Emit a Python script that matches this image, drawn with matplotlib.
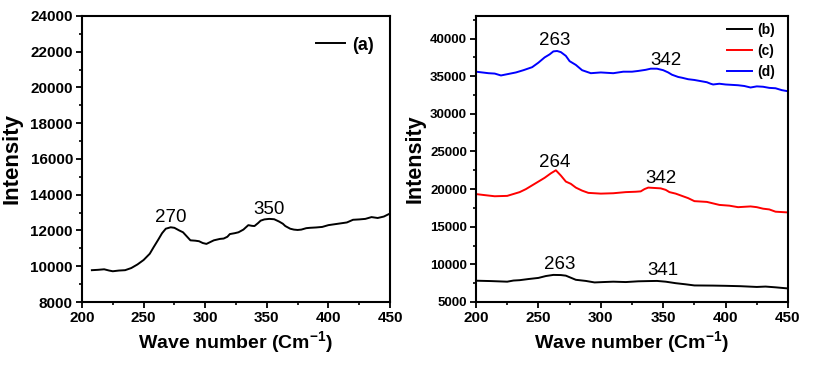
import matplotlib
matplotlib.use("Agg")
import matplotlib.pyplot as plt
from matplotlib.ticker import MultipleLocator

plt.rcParams["font.family"] = ["Liberation Sans", "DejaVu Sans"]
plt.rcParams["mathtext.fontset"] = "custom"
plt.rcParams["mathtext.bf"] = "Liberation Sans:bold"

# sample (a)
wave_a = [208, 213, 218, 222, 225, 230, 235, 240, 245, 250, 255, 258, 262, 265,
          268, 272, 275, 279, 282, 286, 288, 292, 295, 298, 301, 304, 307, 312,
          315, 318, 320, 324, 327, 331, 335, 338, 340, 343, 345, 348, 352, 356,
          360, 363, 365, 369, 372, 375, 378, 382, 385, 390, 395, 400, 405, 410,
          415, 420, 425, 430, 435, 440, 445, 450]
int_a = [9780, 9800, 9830, 9760, 9720, 9760, 9780, 9900, 10100, 10350, 10700,
         11050, 11500, 11850, 12100, 12180, 12150, 12000, 11900, 11600, 11450,
         11430, 11400, 11300, 11250, 11350, 11450, 11530, 11550, 11650, 11800,
         11850, 11900, 12050, 12300, 12260, 12250, 12420, 12550, 12620, 12650,
         12630, 12500, 12380, 12250, 12100, 12050, 12030, 12050, 12130, 12150,
         12170, 12200, 12300, 12350, 12400, 12450, 12600, 12620, 12650, 12750,
         12700, 12780, 12950]

# samples (b), (c), (d)
wave_b = [200, 212, 225, 230, 235, 242, 250, 256, 262, 268, 272, 280, 288, 295,
          302, 310, 320, 330, 338, 345, 352, 360, 368, 375, 390, 400, 412, 425,
          432, 440, 450]
int_b = [7830, 7780, 7700, 7850, 7900, 8050, 8200, 8450, 8600, 8580, 8500, 7950,
         7800, 7600, 7650, 7700, 7650, 7750, 7780, 7800, 7700, 7500, 7350, 7200,
         7180, 7150, 7100, 7000, 7050, 6950, 6800]

wave_c = [200, 207, 215, 225, 230, 235, 240, 245, 250, 255, 260, 264, 268, 272,
          276, 280, 285, 290, 300, 310, 320, 328, 332, 335, 338, 343, 348, 352,
          355, 360, 365, 370, 375, 385, 390, 395, 403, 410, 420, 425, 430, 435,
          440, 450]
int_c = [19340, 19200, 19050, 19100, 19350, 19600, 20000, 20500, 21000, 21500,
         22100, 22500, 21800, 21000, 20700, 20200, 19800, 19500, 19400, 19450,
         19600, 19650, 19700, 20000, 20200, 20150, 20100, 19900, 19600, 19400,
         19100, 18800, 18400, 18300, 18100, 17900, 17800, 17600, 17700, 17600,
         17400, 17300, 17000, 16900]

wave_d = [200, 205, 210, 215, 220, 226, 232, 238, 245, 250, 255, 259, 262, 265,
          268, 272, 275, 280, 285, 292, 300, 310, 318, 325, 330, 336, 340, 345,
          350, 354, 357, 362, 365, 370, 375, 380, 385, 388, 390, 395, 400, 410,
          415, 420, 425, 430, 435, 440, 445, 450]
int_d = [35600, 35500, 35400, 35350, 35100, 35300, 35500, 35800, 36200, 36800,
         37500, 37900, 38300, 38350, 38200, 37700, 37000, 36500, 35800, 35400,
         35500, 35400, 35600, 35600, 35700, 35850, 36000, 36000, 35800, 35500,
         35200, 34900, 34800, 34600, 34500, 34350, 34200, 34000, 33900, 34000,
         33900, 33800, 33700, 33500, 33650, 33600, 33450, 33400, 33150, 33000]

# peak labels: (text, x, y)
peaks_a = [("270", 272, 12750), ("350", 352, 13200)]
peaks_right = [("263", 263, 39800), ("342", 352, 37100),
               ("264", 263, 23600), ("342", 348, 21400),
               ("263", 267, 9950), ("341", 350, 9200)]


def style_axes(ax, ysize):
    ax.tick_params(which="both", direction="out", top=False, right=False)
    ax.tick_params(which="major", length=4.5, width=1.3)
    ax.tick_params(which="minor", length=2.5, width=1.2)
    ax.tick_params(axis="x", labelsize=11, pad=2)
    ax.tick_params(axis="y", labelsize=ysize, pad=2)
    for lab in ax.get_xticklabels() + ax.get_yticklabels():
        lab.set_fontweight("bold")
    for sp in ax.spines.values():
        sp.set_linewidth(1.5)


fig = plt.figure(figsize=(8.14, 3.73), dpi=100)
ax1 = fig.add_axes([82 / 814, 71 / 373, 308 / 814, 286 / 373])
ax2 = fig.add_axes([476 / 814, 71 / 373, 312 / 814, 286 / 373])

ax1.plot(wave_a, int_a, color="black", lw=1.4, label="(a)")
ax1.set_xlim(200, 450)
ax1.set_ylim(8000, 24000)
ax1.xaxis.set_major_locator(MultipleLocator(50))
ax1.xaxis.set_minor_locator(MultipleLocator(25))
ax1.yaxis.set_major_locator(MultipleLocator(2000))
ax1.yaxis.set_minor_locator(MultipleLocator(1000))
style_axes(ax1, 11)
ax1.set_xlabel("Wave number (Cm$^{\\mathbf{-1}}$)", fontsize=14, fontweight="bold",
               labelpad=3)
ax1.set_ylabel("Intensity", fontsize=16, fontweight="bold", labelpad=6)
for txt, x, y in peaks_a:
    ax1.text(x, y, txt, ha="center", va="center", fontsize=13.5)
ax1.legend(loc="upper right", frameon=False, handlelength=1.6, handletextpad=0.4,
           prop={"weight": "bold", "size": 13}, bbox_to_anchor=(1.0, 0.985))

ax2.plot(wave_b, int_b, color="black", lw=1.4, label="(b)")
ax2.plot(wave_c, int_c, color="red", lw=1.4, label="(c)")
ax2.plot(wave_d, int_d, color="blue", lw=1.4, label="(d)")
ax2.set_xlim(200, 450)
ax2.set_ylim(5000, 43000)
ax2.xaxis.set_major_locator(MultipleLocator(50))
ax2.xaxis.set_minor_locator(MultipleLocator(25))
ax2.yaxis.set_major_locator(MultipleLocator(5000))
ax2.yaxis.set_minor_locator(MultipleLocator(2500))
style_axes(ax2, 9.5)
ax2.set_xlabel("Wave number (Cm$^{\\mathbf{-1}}$)", fontsize=14, fontweight="bold",
               labelpad=3)
ax2.set_ylabel("Intensity", fontsize=15.5, fontweight="bold", labelpad=3)
for txt, x, y in peaks_right:
    ax2.text(x, y, txt, ha="center", va="center", fontsize=13.5)
ax2.legend(loc="upper right", frameon=False, handlelength=1.8, handletextpad=0.4,
           prop={"weight": "bold", "size": 10}, labelspacing=0.5,
           bbox_to_anchor=(1.0, 1.02))

fig.savefig("out.png", dpi=100)
